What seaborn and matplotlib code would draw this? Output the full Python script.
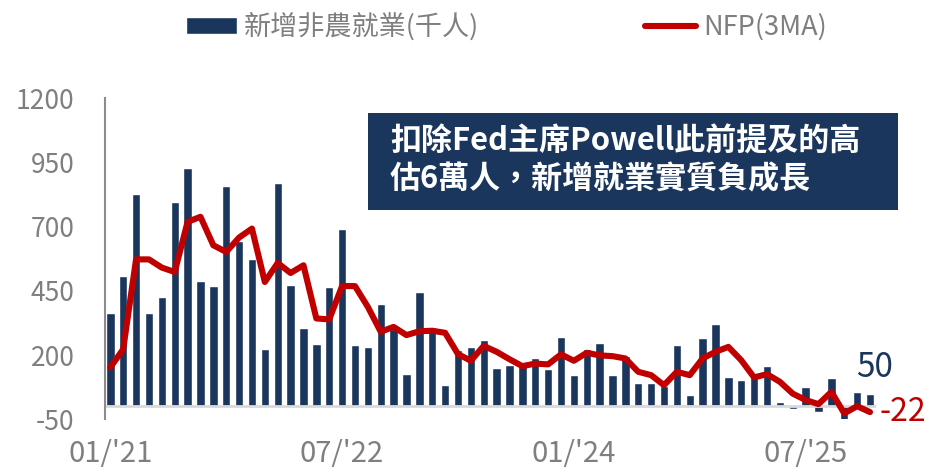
import numpy as np
import pandas as pd
import matplotlib
matplotlib.use("Agg")
import matplotlib.pyplot as plt
from matplotlib.patches import Patch, Rectangle
from matplotlib.lines import Line2D
import seaborn as sns

# --- Data (thousands of jobs) ---
months = pd.date_range("2021-01-01", periods=60, freq="MS").strftime("%Y-%m").tolist()

nfp = [365, 510, 826, 365, 425, 795, 930, 489, 470, 859, 645, 575, 224, 869, 475,
       304, 245, 465, 693, 240, 230, 398, 302, 128, 444, 309, 84, 219, 230, 260,
       149, 160, 162, 189, 145, 269, 121, 224, 249, 121, 196, 90, 90, 78,
       239, 44, 265, 323, 114, 105, 120, 158, 18, -8, 74, -23, 109, -53, 58, 50]

nfp_3ma = [152, 223, 573, 573, 541, 524, 719, 739, 628, 602, 658, 693, 485, 559, 520,
           550, 343, 339, 469, 469, 388, 291, 310, 278, 293, 295, 287, 204, 178, 236,
           213, 184, 157, 167, 164, 203, 178, 209, 199, 196, 187, 135, 122, 83,
           135, 122, 187, 213, 232, 180, 113, 126, 96, 50, 25, 9, 57, -27, 1, -22]

tick_pos = [0, 18, 36, 54]
tick_labels = ["01/'21", "07/'22", "01/'24", "07/'25"]
y_ticks = [-50, 200, 450, 700, 950, 1200]

bar_label = "新增非農就業(千人)"
line_label = "NFP(3MA)"
box_lines = ["扣除Fed主席Powell此前提及的高", "估6萬人，新增就業實質負成長"]

df = pd.DataFrame({"month": months, "nfp": nfp, "ma3": nfp_3ma})
df["pos"] = np.arange(len(df))

navy = "#1B365D"
red = "#C00000"
gray = "#7f7f7f"

# --- Plot ---
sns.set_style("white")
plt.rcParams["font.family"] = ["Noto Sans CJK TC", "DejaVu Sans"]
plt.rcParams["axes.unicode_minus"] = False

fig = plt.figure(figsize=(9.32, 4.70), dpi=100)
ax = fig.add_axes([0.1127, 0.1079, 0.827, 0.6826])

sns.barplot(data=df, x="month", y="nfp", color=navy, saturation=1,
            width=0.65, errorbar=None, ax=ax, zorder=1)
ax.axhline(0, color="#d9d9d9", lw=2, zorder=1.5)
sns.lineplot(data=df, x="pos", y="ma3", color=red, lw=4.4, ax=ax, zorder=3,
             solid_joinstyle="round", solid_capstyle="round")

ax.set_xlim(-0.41, 59.45)
ax.set_ylim(-50, 1200)
ax.set_xticks(tick_pos)
ax.set_xticklabels(tick_labels)
ax.set_yticks(y_ticks)
ax.set_xlabel("")
ax.set_ylabel("")

for side in ["top", "right", "bottom"]:
    ax.spines[side].set_visible(False)
ax.spines["left"].set_color("#8c8c8c")
ax.spines["left"].set_linewidth(1.5)

ax.tick_params(axis="y", direction="in", length=6, width=1.5, color="#8c8c8c",
               pad=22, labelsize=19, labelcolor=gray)
ax.tick_params(axis="x", length=0, pad=14, labelsize=21, labelcolor=gray)

# last value labels
ax.annotate(str(nfp[-1]), xy=(df["pos"].iloc[-1], nfp[-1]), xytext=(3, 19),
            textcoords="offset points", ha="center", va="center",
            fontsize=24, color=navy)
ax.annotate(str(nfp_3ma[-1]), xy=(df["pos"].iloc[-1], nfp_3ma[-1]), xytext=(7, 0),
            textcoords="offset points", ha="left", va="center",
            fontsize=23, color=red)

# legend
handles = [Patch(facecolor=navy, label=bar_label),
           Line2D([], [], color=red, lw=4.4, label=line_label)]
fig.legend(handles=handles, loc="center left", bbox_to_anchor=(186 / 932, 1 - 27 / 470),
           ncol=2, frameon=False, fontsize=19.5, labelcolor=gray,
           handlelength=1.9, handleheight=0.55, handletextpad=0.25,
           columnspacing=6.1, borderpad=0, borderaxespad=0)

# annotation box
fig.add_artist(Rectangle((368 / 932, 1 - 210 / 470), (898 - 368) / 932, (210 - 113) / 470,
                         transform=fig.transFigure, facecolor=navy, edgecolor="none"))
fig.text(390 / 932, 1 - 142 / 470, box_lines[0], color="white", fontsize=22.3,
         fontweight="bold", ha="left", va="center")
fig.text(390 / 932, 1 - 179 / 470, box_lines[1], color="white", fontsize=22.3,
         fontweight="bold", ha="left", va="center")

fig.savefig("out.png", dpi=100)
